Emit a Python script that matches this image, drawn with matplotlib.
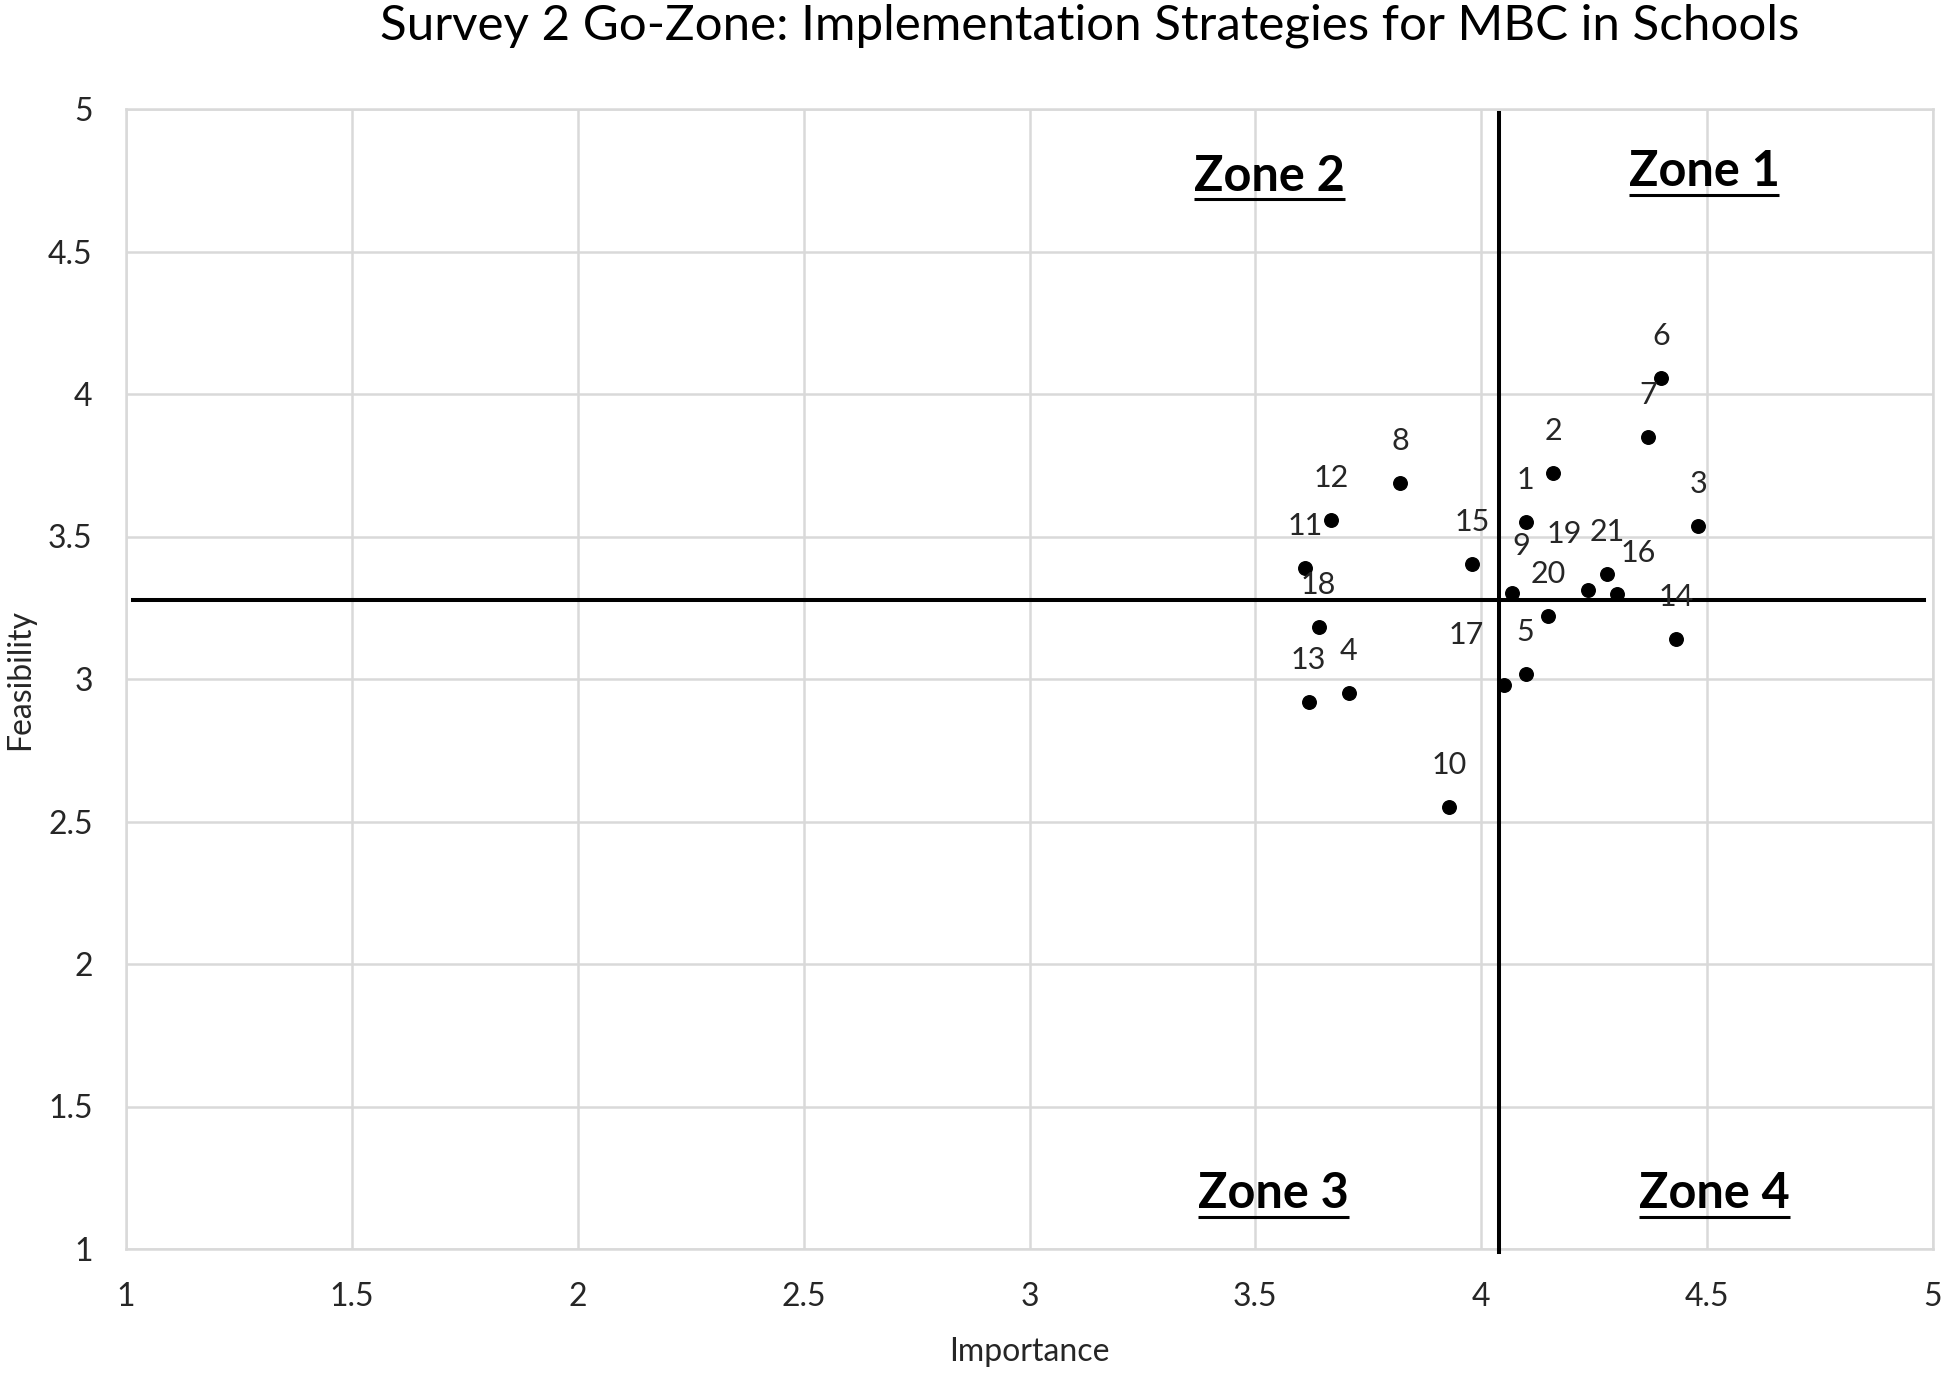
import matplotlib
matplotlib.use("Agg")
import matplotlib.pyplot as plt

plt.rcParams["font.family"] = ["Lato", "DejaVu Sans"]

# Go-Zone points (statement number, mean importance, mean feasibility)
ids = ["1", "2", "3", "4", "5", "6", "7", "8", "9", "10", "11",
       "12", "13", "14", "15", "16", "17", "18", "19", "20", "21"]
importance = [4.098, 4.159, 4.480, 3.707, 4.098, 4.398, 4.369, 3.820, 4.069, 3.929, 3.610,
              3.668, 3.618, 4.431, 3.979, 4.300, 4.051, 3.640, 4.237, 4.148, 4.279]
feasibility = [3.552, 3.722, 3.537, 2.952, 3.018, 4.057, 3.850, 3.687, 3.303, 2.551, 3.391,
               3.559, 2.919, 3.141, 3.402, 3.299, 2.980, 3.181, 3.311, 3.221, 3.369]

# dividing lines (means)
mean_importance = 4.04
mean_feasibility = 3.276

ticks = [1, 1.5, 2, 2.5, 3, 3.5, 4, 4.5, 5]
tick_labels = ["1", "1.5", "2", "2.5", "3", "3.5", "4", "4.5", "5"]

zones = ["Zone 1", "Zone 2", "Zone 3", "Zone 4"]
zone_x = [4.493, 3.531, 3.540, 4.517]
zone_y = [4.730, 4.713, 1.143, 1.143]

# label offsets in pixels (most labels sit straight above the dot)
label_dx = {"9": 9, "16": 21, "17": -38, "19": -24}
label_dy = {"9": 47, "17": 50, "19": 56, "16": 41}

fig = plt.figure(figsize=(19.44, 13.73), dpi=100)
ax = fig.add_axes([126 / 1944, 1 - 1249 / 1373, (1933 - 126) / 1944, (1249 - 109) / 1373])

grid_color = "#d9d9d9"
ax.set_xlim(1, 5)
ax.set_ylim(1, 5)
ax.set_xticks(ticks)
ax.set_xticklabels(tick_labels)
ax.set_yticks(ticks)
ax.set_yticklabels(tick_labels)
ax.grid(True, color=grid_color, linewidth=1.8)
ax.set_axisbelow(True)
for side in ["left", "bottom", "top", "right"]:
    ax.spines[side].set_color(grid_color)
    ax.spines[side].set_linewidth(1.8)
ax.tick_params(length=0, labelsize=23, pad=24, colors="#262626")

ax.scatter(importance, feasibility, s=95, color="black", zorder=4)
for name, x, y in zip(ids, importance, feasibility):
    dx = label_dx.get(name, 0)
    dy = label_dy.get(name, 42)
    ax.annotate(name, (x, y), xytext=(dx, dy), textcoords="offset pixels",
                ha="center", va="center", fontsize=22, color="#262626", zorder=5)

ax.plot([1.015, 4.98], [mean_feasibility, mean_feasibility], color="black",
        linewidth=2.9, zorder=3, clip_on=False)
ax.plot([mean_importance, mean_importance], [0.99, 4.985], color="black",
        linewidth=2.9, zorder=3, clip_on=False)

fig.canvas.draw()
renderer = fig.canvas.get_renderer()
for name, x, y in zip(zones, zone_x, zone_y):
    t = ax.text(x, y, name, ha="center", va="baseline", fontsize=35,
                fontweight="bold", color="black", zorder=5)
    bb = t.get_window_extent(renderer)
    x0, _ = ax.transData.inverted().transform((bb.x0, bb.y0))
    x1, _ = ax.transData.inverted().transform((bb.x1, bb.y0))
    ax.plot([x0, x1], [y - 0.03, y - 0.03], color="black", linewidth=2.2,
            solid_capstyle="butt", zorder=5)

fig.text(1089.5 / 1944, 1 - 40 / 1373,
         "Survey 2 Go-Zone: Implementation Strategies for MBC in Schools",
         ha="center", va="baseline", fontsize=35.5, color="black")
fig.text(1029.5 / 1944, 0.009, "Importance", ha="center", va="baseline",
         fontsize=23, color="#262626")
fig.text(20 / 1944, 1 - 680 / 1373, "Feasibility", ha="center", va="center",
         rotation=90, fontsize=23, color="#262626")

fig.savefig("out.png", dpi=100)
